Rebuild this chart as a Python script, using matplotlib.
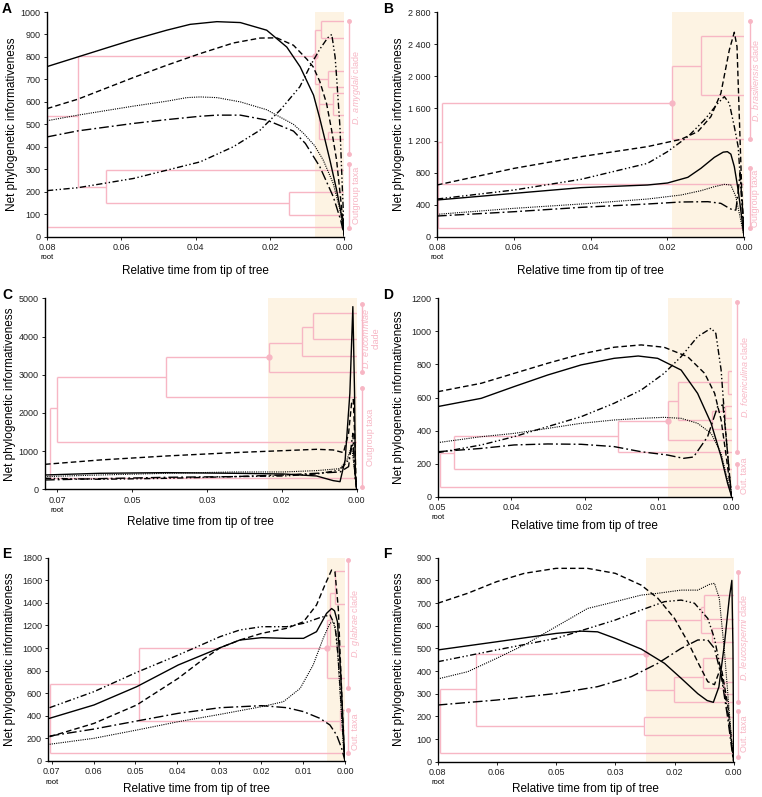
"""Net phylogenetic informativeness profiles, panels A-F"""
import matplotlib
matplotlib.use('Agg')
import matplotlib.pyplot as plt
import matplotlib.transforms as mtransforms
import numpy as np

plt.rcParams['font.family'] = ['Liberation Sans', 'DejaVu Sans']
plt.rcParams['mathtext.fontset'] = 'custom'
plt.rcParams['mathtext.rm'] = 'Liberation Sans'
plt.rcParams['mathtext.it'] = 'Liberation Sans:italic'

W, H = 762, 797
PINK = '#f7b6c4'
SHADE = '#fdf3e3'

# ---------------- panel A ----------------
a_solid = [(0.08, 757), (0.0717, 800), (0.064, 840), (0.0568, 877), (0.0478, 919), (0.0415, 945),
           (0.0343, 957), (0.028, 953), (0.0209, 919), (0.0155, 844), (0.0119, 756), (0.0083, 630),
           (0.0066, 525), (0.0052, 430), (0.0039, 341), (0.0021, 208), (0.0007, 89), (0, 0)]
a_dashed = [(0.08, 570), (0.0717, 612), (0.0568, 708), (0.0478, 763), (0.0388, 815), (0.0299, 862),
            (0.0227, 884), (0.0182, 885), (0.0137, 852), (0.0101, 790), (0.0084, 756), (0.0066, 690),
            (0.0048, 593), (0.0035, 480), (0.0021, 341), (0.0007, 119), (0, 0)]
a_dotted = [(0.08, 516), (0.0717, 541), (0.0568, 581), (0.0478, 603), (0.0424, 619), (0.0388, 622),
            (0.0343, 619), (0.028, 600), (0.0209, 565), (0.0137, 500), (0.011, 460), (0.008, 405),
            (0.0057, 341), (0.003, 237), (0.0012, 119), (0, 0)]
a_dashdot = [(0.08, 444), (0.0717, 471), (0.0568, 504), (0.0478, 521), (0.0388, 536), (0.0343, 541),
             (0.028, 541), (0.0209, 519), (0.0137, 470), (0.0105, 415), (0.0066, 311), (0.003, 178),
             (0.001, 74), (0, 0)]
a_dashdotdot = [(0.08, 205), (0.0717, 218), (0.0568, 259), (0.0478, 296), (0.0388, 333), (0.0299, 400),
                (0.0227, 474), (0.0173, 563), (0.012, 667), (0.0092, 760), (0.0066, 835), (0.0045, 885),
                (0.0034, 900), (0.0025, 800), (0.0021, 711), (0.0012, 489), (0.0005, 194), (0, 0)]
a_tree_h = [(45, 0.08, 0), (535, 0.08, 0.0717), (805, 0.0717, 0.0079), (220, 0.0717, 0.064),
            (295, 0.064, 0), (150, 0.064, 0.015), (200, 0.015, 0), (95, 0.015, 0),
            (918, 0.0079, 0.0064), (960, 0.0064, 0), (886, 0.0064, 0), (681, 0.0079, 0.0068),
            (700, 0.0068, 0.0043), (738, 0.0043, 0), (664, 0.0043, 0), (590, 0.0068, 0.003),
            (640, 0.003, 0), (541, 0.003, 0), (437, 0.0068, 0), (467, 0.0043, 0)]
a_tree_v = [(0.08, 45, 535), (0.0717, 220, 805), (0.064, 150, 295), (0.015, 95, 200),
            (0.0079, 681, 918), (0.0064, 886, 960), (0.0068, 437, 700), (0.0043, 664, 738),
            (0.003, 541, 640), (0.0043, 437, 467)]
a_node = (0.0079, 805)
a_clades = [(960, 370, r'$\it{D.\ amygdali}$ clade'), (325, 40, 'Outgroup taxa')]
a_xticks = ['0.08', '0.06', '0.04', '0.02', '0.00']
a_yticks = [0, 100, 200, 300, 400, 500, 600, 700, 800, 900, 1000]

# ---------------- panel B ----------------
b_solid = [(0.08, 458), (0.0599, 541), (0.0425, 612), (0.0252, 645), (0.02, 670), (0.0147, 741),
           (0.0113, 853), (0.0078, 990), (0.0055, 1055), (0.0044, 1061), (0.0035, 1030), (0.0026, 874),
           (0.0016, 583), (0.0007, 250), (0.0002, 42), (0, 0)]
b_dashed = [(0.08, 645), (0.0599, 853), (0.0425, 999), (0.0252, 1124), (0.0165, 1215), (0.0121, 1311),
            (0.0087, 1498), (0.0061, 1789), (0.0039, 2330), (0.0026, 2551), (0.0019, 2372),
            (0.0013, 1498), (0.0007, 624), (0.0002, 125), (0, 0)]
b_dotted = [(0.08, 279), (0.0599, 354), (0.0425, 408), (0.0252, 470), (0.0165, 520), (0.0113, 574),
            (0.0078, 624), (0.0052, 653), (0.0035, 645), (0.0022, 499), (0.0013, 291), (0.0004, 83), (0, 0)]
b_dashdot = [(0.08, 258), (0.0599, 312), (0.0425, 366), (0.0252, 408), (0.0165, 433), (0.0095, 437),
             (0.0061, 416), (0.0039, 354), (0.0028, 330), (0.0022, 333), (0.0016, 560), (0.0011, 800),
             (0.0004, 300), (0, 0)]
b_dashdotdot = [(0.08, 470), (0.0599, 583), (0.0425, 716), (0.0252, 915), (0.02, 1061), (0.0147, 1248),
                (0.0104, 1456), (0.0069, 1664), (0.0052, 1748), (0.0039, 1664), (0.0026, 1373),
                (0.0016, 1124), (0.0009, 624), (0.0002, 83), (0, 0)]
b_tree_h = [(112, 0.0797, 0), (1186, 0.0797, 0.0787), (653, 0.0787, 0), (1673, 0.0787, 0.0187),
            (2135, 0.0187, 0.0114), (2505, 0.0114, 0), (1768, 0.0114, 0), (1215, 0.0187, 0)]
b_tree_v = [(0.0797, 112, 1186), (0.0787, 653, 1673), (0.0187, 1215, 2135), (0.0114, 1768, 2505)]
b_node = (0.0187, 1673)
b_clades = [(2696, 1215, r'$\it{D.\ brasiliensis}$ clade'), (853, 104, 'Outgroup taxa')]
b_xticks = ['0.08', '0.06', '0.04', '0.02', '0.00']
b_yticks = [0, 400, 800, 1200, 1600, 2000, 2400, 2800]

# ---------------- panel C ----------------
c_solid = [(0.0729, 375), (0.06, 419), (0.0444, 436), (0.0288, 419), (0.0171, 401), (0.0094, 349),
           (0.0055, 227), (0.0039, 200), (0.0027, 768), (0.0016, 2513), (0.0009, 4782), (0.0005, 2513),
           (0.0003, 330), (0, 0)]
c_dashed = [(0.0729, 654), (0.06, 768), (0.0444, 873), (0.0288, 960), (0.0171, 1012), (0.0094, 1047),
            (0.0055, 1030), (0.0031, 960), (0.0019, 1466), (0.0012, 2251), (0.0008, 2350),
            (0.0005, 1500), (0.0002, 400), (0, 0)]
c_dotted = [(0.0729, 332), (0.06, 375), (0.0444, 419), (0.0288, 454), (0.0171, 454), (0.0094, 489),
            (0.0039, 541), (0.0023, 768), (0.0012, 1117), (0.0004, 419), (0, 0)]
c_dashdot = [(0.0729, 244), (0.06, 279), (0.0444, 314), (0.0288, 332), (0.0171, 375), (0.0094, 419),
             (0.0039, 454), (0.0019, 593), (0.0009, 1466), (0.0004, 332), (0, 0)]
c_dashdotdot = [(0.0729, 288), (0.06, 262), (0.0444, 288), (0.0288, 332), (0.0171, 349), (0.0094, 401),
                (0.0039, 506), (0.0019, 768), (0.0009, 1204), (0.0004, 419), (0, 0)]
c_tree_h = [(288, 0.0717, 0), (2120, 0.0717, 0.07), (1248, 0.07, 0), (2950, 0.07, 0.0447),
            (2426, 0.0447, 0), (3473, 0.0447, 0.0206), (3839, 0.0206, 0.0129), (3499, 0.0129, 0),
            (4258, 0.0129, 0.0102), (4607, 0.0102, 0), (3927, 0.0102, 0), (3072, 0.0206, 0)]
c_tree_v = [(0.0717, 288, 2120), (0.07, 1248, 2950), (0.0447, 2426, 3473), (0.0206, 3072, 3839),
            (0.0129, 3499, 4258), (0.0102, 3927, 4607)]
c_node = (0.0206, 3473)
c_clades = [(4843, 3072, '$\\it{D.\\ eucommiae}$\nclade'), (2644, 70, 'Outgroup taxa')]
c_xticks = ['0.07', '0.05', '0.03', '0.02', '0.00']
c_yticks = [0, 1000, 2000, 3000, 4000, 5000]

# ---------------- panel D ----------------
d_solid = [(0.05, 545), (0.0426, 595), (0.037, 666), (0.0313, 736), (0.0256, 797), (0.02, 837),
           (0.0159, 851), (0.0126, 837), (0.0086, 766), (0.0058, 625), (0.0035, 444), (0.0018, 242),
           (0.0007, 81), (0, 0)]
d_dashed = [(0.05, 635), (0.0426, 686), (0.037, 746), (0.0313, 807), (0.0256, 863), (0.02, 904),
            (0.0154, 918), (0.0115, 904), (0.0075, 847), (0.0046, 746), (0.0029, 625), (0.0018, 464),
            (0.001, 262), (0.0004, 101), (0, 0)]
d_dotted = [(0.05, 327), (0.0426, 363), (0.037, 383), (0.0313, 413), (0.0256, 444), (0.02, 464),
            (0.0154, 474), (0.0115, 480), (0.0086, 474), (0.0058, 444), (0.0035, 383), (0.0018, 262),
            (0.0007, 101), (0, 0)]
d_dashdot = [(0.05, 272), (0.0426, 292), (0.037, 313), (0.0313, 319), (0.0256, 317), (0.02, 303),
             (0.0154, 272), (0.0109, 252), (0.0082, 232), (0.0065, 240), (0.0041, 363), (0.0024, 545),
             (0.0015, 555), (0.001, 383), (0.0004, 141), (0, 0)]
d_dashdotdot = [(0.05, 266), (0.0426, 313), (0.037, 363), (0.0313, 424), (0.0256, 484), (0.02, 565),
                (0.0154, 645), (0.0115, 746), (0.0086, 847), (0.0058, 968), (0.0035, 1019),
                (0.0027, 988), (0.0018, 766), (0.001, 383), (0.0004, 141), (0, 0)]
d_tree_h = [(61, 0.0496, 0), (266, 0.0496, 0.0473), (165, 0.0473, 0), (367, 0.0473, 0.0193),
            (268, 0.0193, 0), (460, 0.0193, 0.0109), (343, 0.0109, 0), (577, 0.0109, 0.0091),
            (692, 0.0091, 0.0007), (760, 0.0007, 0), (620, 0.0007, 0), (464, 0.0091, 0.0034),
            (410, 0.0034, 0), (520, 0.0034, 0.0012), (550, 0.0012, 0), (475, 0.0012, 0)]
d_tree_v = [(0.0496, 61, 266), (0.0473, 165, 367), (0.0193, 268, 460), (0.0109, 343, 577),
            (0.0091, 464, 692), (0.0007, 620, 760), (0.0034, 410, 520), (0.0012, 475, 550)]
d_node = (0.0109, 460)
d_clades = [(1180, 268, r'$\it{D.\ foeniculina}$ clade'), (198, 61, 'Out. taxa')]
d_xticks = ['0.05', '0.04', '0.02', '0.01', '0.00']
d_yticks = [0, 200, 400, 600, 800, 1000, 1200]

# ---------------- panel E ----------------
e_solid = [(0.0705, 378), (0.0599, 496), (0.0497, 658), (0.0398, 850), (0.0298, 1003), (0.0251, 1071),
           (0.0199, 1092), (0.0139, 1086), (0.0099, 1086), (0.0068, 1145), (0.0044, 1307),
           (0.0032, 1350), (0.0025, 1330), (0.0018, 1233), (0.001, 761), (0.0002, 112), (0, 0)]
e_dashed = [(0.0705, 215), (0.0599, 333), (0.0497, 496), (0.0398, 732), (0.0346, 879), (0.0298, 1003),
            (0.0251, 1071), (0.0199, 1130), (0.0139, 1175), (0.0099, 1233), (0.0068, 1381),
            (0.0048, 1558), (0.0032, 1691), (0.0024, 1676), (0.0016, 1352), (0.0008, 614),
            (0.0002, 83), (0, 0)]
e_dotted = [(0.0705, 148), (0.0599, 201), (0.0497, 274), (0.0398, 348), (0.0298, 413), (0.0199, 481),
            (0.0147, 525), (0.0107, 643), (0.0076, 850), (0.0052, 1086), (0.0036, 1219), (0.0028, 1233),
            (0.002, 1115), (0.0012, 614), (0.0004, 142), (0, 0)]
e_dashdot = [(0.0705, 221), (0.0599, 283), (0.0497, 354), (0.0398, 422), (0.0298, 472), (0.0199, 490),
             (0.0139, 472), (0.0099, 437), (0.006, 378), (0.0036, 319), (0.002, 230), (0.0008, 112), (0, 0)]
e_dashdotdot = [(0.0705, 472), (0.0599, 614), (0.0497, 785), (0.0398, 938), (0.0298, 1101),
                (0.0251, 1160), (0.0199, 1189), (0.0139, 1189), (0.0099, 1219), (0.006, 1269),
                (0.0036, 1293), (0.0024, 1204), (0.0016, 909), (0.0008, 437), (0.0002, 53), (0, 0)]
e_tree_h = [(68, 0.0704, 0), (679, 0.0704, 0.0491), (357, 0.0491, 0.0013), (451, 0.0013, 0),
            (274, 0.0013, 0), (997, 0.0491, 0.0044), (732, 0.0044, 0), (1248, 0.0044, 0.0036),
            (1021, 0.0036, 0), (1484, 0.0036, 0.0025), (1682, 0.0025, 0), (1390, 0.0025, 0)]
e_tree_v = [(0.0704, 68, 679), (0.0491, 357, 997), (0.0013, 274, 451), (0.0044, 732, 1248),
            (0.0036, 1021, 1484), (0.0025, 1390, 1682)]
e_node = (0.0044, 997)
e_clades = [(1780, 643, r'$\it{D.\ glabrae}$ clade'), (451, 68, 'Out. taxa')]
e_xticks = ['0.07', '0.06', '0.05', '0.04', '0.03', '0.02', '0.01', '0.00']
e_yticks = [0, 200, 400, 600, 800, 1000, 1200, 1400, 1600, 1800]

# ---------------- panel F ----------------
f_solid = [(0.08, 493), (0.0641, 529), (0.048, 566), (0.0413, 576), (0.0368, 573), (0.032, 544),
           (0.025, 497), (0.0187, 434), (0.0142, 368), (0.0097, 300), (0.0072, 270), (0.0055, 262),
           (0.004, 330), (0.0025, 520), (0.0012, 720), (0.0005, 800), (0.0002, 500), (0, 0)]
f_dashed = [(0.08, 699), (0.0719, 743), (0.0641, 794), (0.0566, 831), (0.048, 853), (0.0395, 853),
            (0.032, 831), (0.025, 779), (0.0205, 721), (0.016, 632), (0.0124, 529), (0.0093, 426),
            (0.007, 353), (0.0052, 340), (0.0034, 420), (0.0016, 250), (0, 0)]
f_dotted = [(0.08, 365), (0.0719, 397), (0.0641, 456), (0.0566, 515), (0.048, 596), (0.0395, 676),
            (0.032, 706), (0.025, 735), (0.0205, 743), (0.0142, 757), (0.0097, 757), (0.0066, 782),
            (0.0052, 787), (0.0039, 721), (0.0025, 485), (0.0012, 221), (0.0003, 44), (0, 0)]
f_dashdot = [(0.08, 250), (0.0641, 272), (0.048, 301), (0.0368, 331), (0.0277, 375), (0.0205, 434),
             (0.0142, 500), (0.0097, 537), (0.007, 537), (0.0052, 500), (0.0034, 382), (0.0016, 191),
             (0.0003, 29), (0, 0)]
f_dashdotdot = [(0.08, 441), (0.0641, 493), (0.048, 544), (0.032, 625), (0.025, 669), (0.0187, 706),
                (0.0142, 713), (0.0106, 699), (0.007, 632), (0.0052, 544), (0.0034, 397), (0.0016, 221),
                (0.0003, 44), (0, 0)]
f_tree_h = [(37, 0.0793, 0), (319, 0.0793, 0.0696), (159, 0.0696, 0.0243), (199, 0.0243, 0),
            (118, 0.0243, 0), (474, 0.0696, 0.0237), (625, 0.0237, 0.0089), (684, 0.0089, 0.0079),
            (735, 0.0079, 0), (628, 0.0079, 0), (566, 0.0089, 0.006), (590, 0.006, 0), (530, 0.006, 0),
            (316, 0.0237, 0.0162), (262, 0.0162, 0), (375, 0.0162, 0.0083), (456, 0.0083, 0),
            (324, 0.0083, 0.0025), (350, 0.0025, 0), (300, 0.0025, 0)]
f_tree_v = [(0.0793, 37, 319), (0.0696, 159, 474), (0.0243, 118, 199), (0.0237, 316, 625),
            (0.0089, 566, 684), (0.0079, 628, 735), (0.006, 530, 590), (0.0162, 262, 375),
            (0.0083, 324, 456), (0.0025, 300, 350)]
f_node = (0.0237, 474)
f_clades = [(838, 262, r'$\it{D.\ leucospermi}$ clade'), (224, 22, 'Out. taxa')]
f_xticks = ['0.08', '0.06', '0.05', '0.03', '0.02', '0.00']
f_yticks = [0, 100, 200, 300, 400, 500, 600, 700, 800, 900]

STYLES = {
    'solid': dict(ls='-', lw=1.0),
    'dashed': dict(ls=(0, (4, 2.2)), lw=1.0),
    'dotted': dict(ls=(0, (1, 1)), lw=0.8),
    'dashdot': dict(ls=(0, (7, 2.2, 1.3, 2.2)), lw=1.0),
    'dashdotdot': dict(ls=(0, (4.5, 1.8, 1, 1.8, 1, 1.8)), lw=1.0),
}


def draw_panel(fig, letter, box, letter_px, ylab_px, xlab_py, root, xlim_left, xtick_labels,
               yticks, ylabels, shade_from, curves, tree_h, tree_v, node, clades,
               bracket_x, label_x):
    l, t, r, b = box
    ax = fig.add_axes([l / W, 1 - b / H, (r - l) / W, (b - t) / H])

    ax.axvspan(shade_from, 0, color=SHADE, lw=0, zorder=0)

    # 树
    for y, x0, x1 in tree_h:
        ax.plot([x0, x1], [y, y], color=PINK, lw=1.0, zorder=1, solid_capstyle='butt')
    for x, y0, y1 in tree_v:
        ax.plot([x, x], [y0, y1], color=PINK, lw=1.0, zorder=1, solid_capstyle='butt')
    ax.plot([node[0]], [node[1]], 'o', color=PINK, ms=3.5, zorder=2)

    for name, pts in curves.items():
        xs = [p[0] for p in pts]
        ys = [p[1] for p in pts]
        ax.plot(xs, ys, color='black', zorder=3, **STYLES[name])

    ax.set_xlim(xlim_left, 0)
    ax.set_ylim(0, yticks[-1])
    ax.set_xticks(np.linspace(root, 0, len(xtick_labels)))
    ax.set_xticklabels(xtick_labels)
    ax.set_yticks(yticks)
    ax.set_yticklabels(ylabels)
    ax.tick_params(labelsize=6.5, length=2.5, width=0.7, pad=2, colors='#222222')
    for s in ['top', 'right']:
        ax.spines[s].set_visible(False)
    for s in ['left', 'bottom']:
        ax.spines[s].set_linewidth(1.0)

    ax.set_ylabel('Net phylogenetic informativeness', fontsize=8.5)
    ax.set_xlabel('Relative time from tip of tree', fontsize=8.5)
    ax.yaxis.set_label_coords((ylab_px - l) / (r - l), 0.5)
    ax.xaxis.set_label_coords(0.5, -(xlab_py - b) / (b - t))
    ax.xaxis.label.set_va('center')
    ax.yaxis.label.set_va('center')

    trans = mtransforms.blended_transform_factory(ax.transData, ax.transAxes)
    ax.text(root, -17.5 / (b - t), 'root', transform=trans, ha='center', va='top', fontsize=5.5)

    # 分支标注
    tr = mtransforms.blended_transform_factory(ax.transAxes, ax.transData)
    for y0, y1, lab in clades:
        ax.plot([bracket_x, bracket_x], [y0, y1], color=PINK, lw=1.0, marker='o', ms=2.5,
                transform=tr, clip_on=False)
        ax.text(label_x, (y0 + y1) / 2, lab, rotation=90, ha='center', va='center',
                color=PINK, fontsize=6.5, transform=tr, linespacing=1.0)

    fig.text(letter_px[0] / W, 1 - letter_px[1] / H, letter, fontsize=10, fontweight='bold',
             ha='left', va='top')
    return ax


def curves_of(solid, dashed, dotted, dashdot, dashdotdot):
    return {'solid': solid, 'dashed': dashed, 'dotted': dotted,
            'dashdot': dashdot, 'dashdotdot': dashdotdot}


fig = plt.figure(figsize=(W / 100, H / 100), dpi=100)
fig.patch.set_facecolor('white')

draw_panel(fig, 'A', (47, 12, 344.4, 236.7), (2, 2), 12, 271, 0.08, 0.08, a_xticks,
           a_yticks, [str(v) for v in a_yticks], 0.0079,
           curves_of(a_solid, a_dashed, a_dotted, a_dashdot, a_dashdotdot),
           a_tree_h, a_tree_v, a_node, a_clades, 1.017, 1.041)

draw_panel(fig, 'B', (437, 12.3, 744.3, 236.7), (383, 2), 399, 271, 0.08, 0.08, b_xticks,
           b_yticks, ['{:,}'.format(v).replace(',', ' ') for v in b_yticks], 0.0187,
           curves_of(b_solid, b_dashed, b_dotted, b_dashdot, b_dashdotdot),
           b_tree_h, b_tree_v, b_node, b_clades, 1.0185, 1.038)

draw_panel(fig, 'C', (45, 298.3, 356.7, 489.3), (2, 288), 10, 522, 0.07, 0.0729, c_xticks,
           c_yticks, [str(v) for v in c_yticks], 0.0207,
           curves_of(c_solid, c_dashed, c_dotted, c_dashdot, c_dashdotdot),
           c_tree_h, c_tree_v, c_node, c_clades, 1.016, 1.044)

draw_panel(fig, 'D', (437.7, 298.3, 731.7, 496.7), (383, 288), 399, 526, 0.05, 0.05, d_xticks,
           d_yticks, [str(v) for v in d_yticks], 0.0109,
           curves_of(d_solid, d_dashed, d_dotted, d_dashdot, d_dashdotdot),
           d_tree_h, d_tree_v, d_node, d_clades, 1.018, 1.043)

draw_panel(fig, 'E', (48.3, 557.7, 345, 761), (2, 547), 10, 789, 0.07, 0.0708, e_xticks,
           e_yticks, [str(v) for v in e_yticks], 0.0044,
           curves_of(e_solid, e_dashed, e_dotted, e_dashdot, e_dashdotdot),
           e_tree_h, e_tree_v, e_node, e_clades, 1.011, 1.034)

draw_panel(fig, 'F', (437.7, 557.7, 733.7, 761.7), (383, 547), 399, 789, 0.08, 0.08, f_xticks,
           f_yticks, [str(v) for v in f_yticks], 0.0237,
           curves_of(f_solid, f_dashed, f_dotted, f_dashdot, f_dashdotdot),
           f_tree_h, f_tree_v, f_node, f_clades, 1.0135, 1.036)

fig.savefig('out.png', dpi=100)
